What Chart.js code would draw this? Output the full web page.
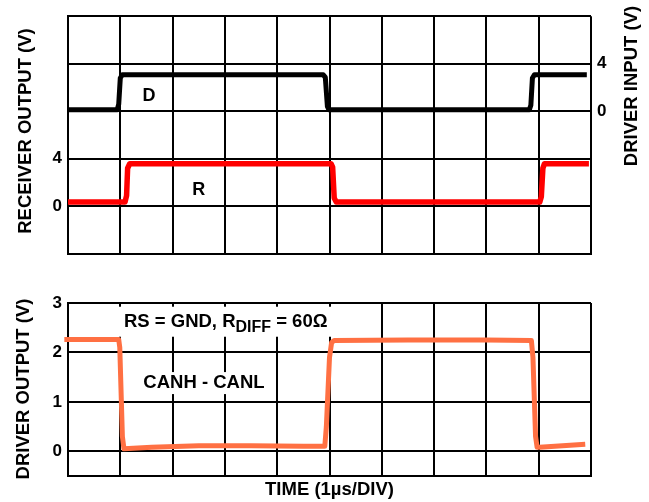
<!DOCTYPE html>
<html>
<head>
<meta charset="utf-8">
<script src="https://cdn.jsdelivr.net/npm/chart.js@4.4.1/dist/chart.umd.min.js"></script>
<style>
  html, body { margin: 0; padding: 0; background: #fff; }
  #wrap { position: relative; width: 649px; height: 502px; }
  canvas { position: absolute; left: 0; }
  #top { top: 0; }
  #bot { top: 270px; }
</style>
</head>
<body>
<div id="wrap">
  <canvas id="top" width="649" height="270"></canvas>
  <canvas id="bot" width="649" height="232"></canvas>
</div>
<script>
// ---------- data (time in µs = divisions) ----------
const timeDivs = [0, 1, 2, 3, 4, 5, 6, 7, 8, 9, 10];

// D: driver input (V), right axis of top panel
const dTime = [0, 0.94, 0.97, 1.0, 1.04, 4.88, 4.92, 4.96, 4.99, 8.82, 8.85, 8.88, 8.92, 9.92];
const dVolt = [0.12, 0.12, 0.6, 2.8, 3.08, 3.08, 2.85, 0.4, 0.12, 0.12, 0.5, 2.8, 3.08, 3.08];

// R: receiver output (V), left axis of top panel
const rTime = [0, 1.09, 1.12, 1.14, 1.18, 5.03, 5.06, 5.09, 5.13, 9.02, 9.05, 9.08, 9.11, 9.96];
const rVolt = [0.35, 0.35, 0.9, 3.2, 3.58, 3.58, 3.3, 0.7, 0.35, 0.35, 0.8, 3.2, 3.58, 3.58];

// CANH - CANL: driver output (V), bottom panel
const oTime = [-0.07, 0.97, 0.99, 1.04, 1.07, 1.6, 2.5, 3.5, 4.5, 4.91, 4.94, 5.0, 5.04, 5.09, 6.5, 8.0, 8.86, 8.89, 8.94, 8.97, 9.02, 9.89];
const oVolt = [2.26, 2.26, 2.1, 0.3, 0.05, 0.08, 0.11, 0.11, 0.1, 0.1, 0.5, 1.9, 2.2, 2.24, 2.25, 2.25, 2.24, 1.9, 0.3, 0.08, 0.08, 0.14];

// tick values
const rxTicks = [-4, 0, 4, 8, 12, 16];      // receiver output grid
const rxLabels = [0, 4];
const drTicks = [0, 4];                      // driver input labels
const doTicks = [-0.5, 0, 1, 2, 3];          // driver output grid
const doLabels = [0, 1, 2, 3];

const FONT = '"Liberation Sans", Arial, Helvetica, sans-serif';
const pts = (xs, ys) => xs.map((x, i) => ({ x: x, y: ys[i] }));

function fixTicks(vals) {
  return function (scale) { scale.ticks = vals.map(v => ({ value: v })); };
}
function fixW(w) { return function (scale) { scale.width = w; }; }
function fixH(h) { return function (scale) { scale.height = h; }; }

const gridStyle = { color: '#000', lineWidth: 2, drawTicks: false };
const borderStyle = { display: true, color: '#000', width: 2 };
const tickFont = { family: FONT, size: 17, weight: 'bold' };
const TITLE = 'bold 18.5px ' + FONT;

function vtext(ctx, txt, x, y) {
  ctx.save();
  ctx.translate(x, y);
  ctx.rotate(-Math.PI / 2);
  ctx.textAlign = 'center';
  ctx.textBaseline = 'middle';
  ctx.fillText(txt, 0, 0);
  ctx.restore();
}

// ---------- top panel ----------
const topPlugin = {
  id: 'topText',
  afterDraw(chart) {
    const ctx = chart.ctx;
    const xs = chart.scales.x, yl = chart.scales.y, yr = chart.scales.y2;
    ctx.save();
    ctx.fillStyle = '#000';
    ctx.font = 'bold 18px ' + FONT;
    ctx.textAlign = 'center';
    ctx.textBaseline = 'middle';
    ctx.fillText('D', xs.getPixelForValue(1.55), yr.getPixelForValue(1.3));
    ctx.fillText('R', xs.getPixelForValue(2.5), yl.getPixelForValue(1.4));
    ctx.font = TITLE;
    vtext(ctx, 'RECEIVER OUTPUT (V)', 26, 131);
    vtext(ctx, 'DRIVER INPUT (V)', 632, 86);
    ctx.restore();
  }
};

new Chart(document.getElementById('top'), {
  type: 'line',
  data: {
    datasets: [
      { label: 'D', data: pts(dTime, dVolt), yAxisID: 'y2', borderColor: '#000', borderWidth: 5,
        pointRadius: 0, tension: 0, borderJoinStyle: 'round', fill: false },
      { label: 'R', data: pts(rTime, rVolt), yAxisID: 'y', borderColor: '#ff0000', borderWidth: 5.5,
        pointRadius: 0, tension: 0, borderJoinStyle: 'round', fill: false }
    ]
  },
  options: {
    responsive: false,
    animation: false,
    events: [],
    layout: { padding: { top: 12, bottom: 16, left: 0, right: 0 } },
    plugins: { legend: { display: false }, tooltip: { enabled: false } },
    scales: {
      x: {
        type: 'linear', min: 0, max: 10,
        afterBuildTicks: fixTicks(timeDivs), afterFit: fixH(0),
        ticks: { display: false }, grid: gridStyle, border: borderStyle
      },
      y: {
        position: 'left', min: -4, max: 16,
        afterBuildTicks: fixTicks(rxTicks), afterFit: fixW(68),
        ticks: { color: '#000', font: tickFont, padding: 6,
                 callback: v => rxLabels.includes(v) ? String(v) : '' },
        grid: gridStyle, border: borderStyle
      },
      y2: {
        position: 'right', min: -12, max: 8,
        afterBuildTicks: fixTicks(drTicks), afterFit: fixW(58),
        ticks: { color: '#000', font: tickFont, padding: 6 },
        grid: { display: false, drawTicks: false }, border: { display: false }
      }
    }
  },
  plugins: [topPlugin]
});

// ---------- bottom panel ----------
const botPlugin = {
  id: 'botText',
  beforeDatasetsDraw(chart) {
    const ctx = chart.ctx;
    const xs = chart.scales.x, ys = chart.scales.y;
    ctx.save();
    ctx.fillStyle = '#000';
    ctx.textBaseline = 'alphabetic';
    ctx.textAlign = 'left';
    // "RS = GND, R_DIFF = 60Ω"
    const big = 'bold 18.5px ' + FONT, small = 'bold 16px ' + FONT;
    const x0 = xs.getPixelForValue(1.07), base = ys.getPixelForValue(2.52);
    const p1 = 'RS = GND, R', p2 = 'DIFF', p3 = ' = 60Ω';
    ctx.font = big; const w1 = ctx.measureText(p1).width, w3 = ctx.measureText(p3).width;
    ctx.font = small; const w2 = ctx.measureText(p2).width;
    ctx.fillStyle = '#fff';
    ctx.fillRect(x0 - 5, base - 20, w1 + w2 + w3 + 9, 30);
    ctx.fillStyle = '#000';
    ctx.font = big; ctx.fillText(p1, x0, base);
    ctx.font = small; ctx.fillText(p2, x0 + w1, base + 5);
    ctx.font = big; ctx.fillText(p3, x0 + w1 + w2, base);
    // "CANH - CANL"
    const cx = xs.getPixelForValue(2.6), cy = ys.getPixelForValue(1.38);
    ctx.font = big;
    const wc = ctx.measureText('CANH - CANL').width;
    ctx.fillStyle = '#fff';
    ctx.fillRect(cx - wc / 2 - 3, cy - 11, wc + 6, 22);
    ctx.fillStyle = '#000';
    ctx.textAlign = 'center';
    ctx.textBaseline = 'middle';
    ctx.fillText('CANH - CANL', cx, cy);
    ctx.restore();
  },
  afterDraw(chart) {
    const ctx = chart.ctx;
    ctx.save();
    ctx.fillStyle = '#000';
    ctx.font = TITLE;
    vtext(ctx, 'DRIVER OUTPUT (V)', 24, 119);
    ctx.textAlign = 'center';
    ctx.textBaseline = 'middle';
    const xs = chart.scales.x;
    ctx.fillText('TIME (1µs/DIV)', (xs.left + xs.right) / 2, 220);
    ctx.restore();
  }
};

new Chart(document.getElementById('bot'), {
  type: 'line',
  data: {
    datasets: [
      { label: 'CANH - CANL', data: pts(oTime, oVolt), borderColor: '#ff7043', borderWidth: 5,
        pointRadius: 0, tension: 0, borderJoinStyle: 'round', fill: false, clip: false }
    ]
  },
  options: {
    responsive: false,
    animation: false,
    events: [],
    layout: { padding: { top: 33, bottom: 26, left: 0, right: 58 } },
    plugins: { legend: { display: false }, tooltip: { enabled: false } },
    scales: {
      x: {
        type: 'linear', min: 0, max: 10,
        afterBuildTicks: fixTicks(timeDivs), afterFit: fixH(0),
        ticks: { display: false }, grid: gridStyle, border: borderStyle
      },
      y: {
        position: 'left', min: -0.5, max: 3,
        afterBuildTicks: fixTicks(doTicks), afterFit: fixW(68),
        ticks: { color: '#000', font: tickFont, padding: 6,
                 callback: v => doLabels.includes(v) ? String(v) : '' },
        grid: gridStyle, border: borderStyle
      }
    }
  },
  plugins: [botPlugin]
});
</script>
</body>
</html>
